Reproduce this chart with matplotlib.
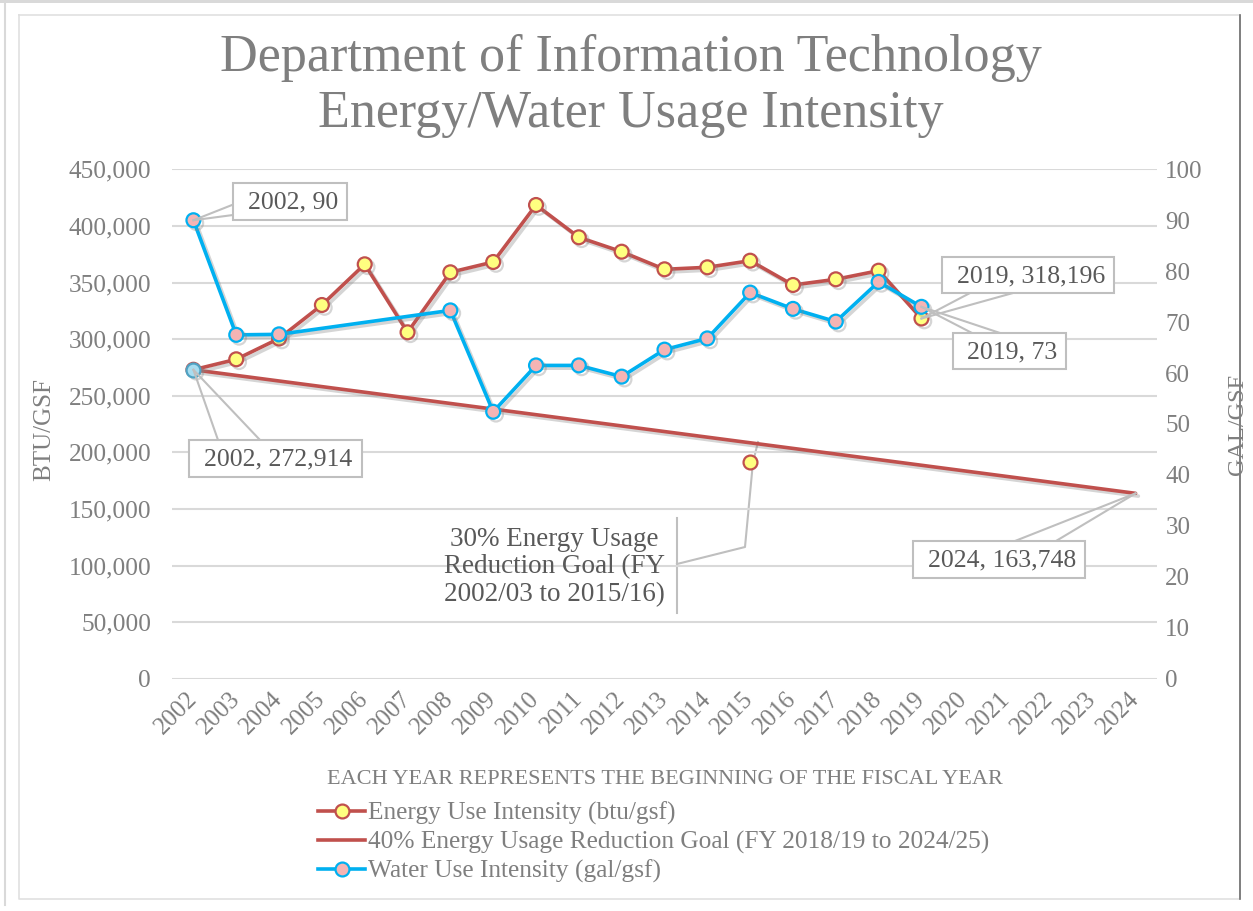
import numpy as np
import matplotlib
matplotlib.use("Agg")
import matplotlib.pyplot as plt
import matplotlib.patheffects as pe
from matplotlib.lines import Line2D
from matplotlib.patches import Rectangle
from matplotlib.ticker import FuncFormatter

# ---------------- data ----------------
years = [str(y) for y in range(2002, 2025)]

energy_years = [str(y) for y in range(2002, 2020)]
energy_values = [272914, 282160, 300530, 330130, 366080, 306010, 359010, 368110,
                 418470, 389930, 377210, 361660, 363430, 369260, 347800, 352830,
                 360430, 318196]

goal40_years = ["2002", "2024"]
goal40_values = [272914, 163748]

goal30_years = ["2015"]
goal30_values = [191040]

water_years = ["2002", "2003", "2004", "2008", "2009", "2010", "2011", "2012",
               "2013", "2014", "2015", "2016", "2017", "2018", "2019"]
water_values = [90, 67.5, 67.6, 72.3, 52.4, 61.5, 61.5, 59.3, 64.6, 66.8, 75.8,
                72.6, 70.1, 77.9, 73]

left_ticks = list(range(0, 450001, 50000))
right_ticks = list(range(0, 101, 10))

title_text = "Department of Information Technology\nEnergy/Water Usage Intensity"
xlabel_text = "EACH YEAR REPRESENTS THE BEGINNING OF THE FISCAL YEAR"
legend_labels = ["Energy Use Intensity (btu/gsf)",
                 "40% Energy Usage Reduction Goal (FY 2018/19 to 2024/25)",
                 "Water Use Intensity (gal/gsf)"]

# ---------------- style ----------------
FONT = "Liberation Serif"
plt.rcParams["font.family"] = [FONT, "DejaVu Serif"]
RED = "#C0504D"
YEL = "#FFFF80"
BLUE = "#00B0F0"
PINK = "#F4B4B4"
GRID = "#D9D9D9"
TXT = "#7F7F7F"
DTXT = "#595959"

W, H = 1253, 911
fig = plt.figure(figsize=(W / 100, H / 100), dpi=100)
fig.patch.set_facecolor("white")


def fx(x):
    return x / W


def fy(y):
    return 1 - y / H


# frame
fig.patches.append(Rectangle((0, fy(3)), 1, 3 / H, transform=fig.transFigure,
                             facecolor="#D9D9D9", edgecolor="none"))
fig.add_artist(Line2D([fx(5), fx(5)], [fy(0), fy(905)], transform=fig.transFigure,
                      color="#D9D9D9", lw=1.5))
fig.add_artist(Line2D([fx(19), fx(1240), fx(1240), fx(19), fx(19)],
                      [fy(15), fy(15), fy(899), fy(899), fy(15)],
                      transform=fig.transFigure, color="#E0E0E0", lw=1.2))
fig.add_artist(Line2D([fx(1240), fx(1240)], [fy(15), fy(899)],
                      transform=fig.transFigure, color="#6E6E6E", lw=1.2))

ax_l, ax_r, ax_t, ax_b = 172, 1157, 169.3, 678.7
ax = fig.add_axes([fx(ax_l), fy(ax_b), (ax_r - ax_l) / W, (ax_b - ax_t) / H])
ax2 = ax.twinx()

xpos = {y: i for i, y in enumerate(years)}

ax.set_xlim(-0.5, len(years) - 0.5)
ax.set_ylim(0, 450000)
ax2.set_ylim(0, 100)
ax.set_xticks(range(len(years)))
ax.set_xticklabels(years)
ax.set_yticks(left_ticks)
ax.yaxis.set_major_formatter(FuncFormatter(lambda v, p: f"{int(v):,}"))
ax2.set_yticks(right_ticks)

for a in (ax, ax2):
    for s in a.spines.values():
        s.set_visible(False)
    a.patch.set_visible(False)
ax.grid(axis="y", color=GRID, lw=1.5)
ax.set_axisbelow(True)
ax.tick_params(axis="y", length=0, pad=15, labelsize=18.3, labelcolor=TXT)
ax.tick_params(axis="x", length=0, pad=12, labelsize=17.8, labelcolor=TXT)
ax2.tick_params(axis="y", length=0, pad=6, labelsize=18, labelcolor=TXT)
for lab in ax.get_xticklabels():
    lab.set_rotation(45)
    lab.set_ha("right")
    lab.set_va("center")
    lab.set_rotation_mode("anchor")

shadow = [pe.SimpleLineShadow(offset=(2, -2), shadow_color="#888888", alpha=0.35), pe.Normal()]

# goal line 40%
ax.plot([xpos[y] for y in goal40_years], goal40_values, color=RED, lw=2.6,
        path_effects=shadow, zorder=2, solid_capstyle="round")
# energy
ax.plot([xpos[y] for y in energy_years], energy_values, color=RED, lw=2.6,
        marker="o", ms=10, mfc=YEL, mec=RED, mew=1.6, path_effects=shadow, zorder=3)
# 30% goal single point
ax.plot([xpos[y] for y in goal30_years], goal30_values, ls="none", marker="o", ms=10,
        mfc=YEL, mec=RED, mew=1.6, zorder=3)
# water
ax2.plot([xpos[y] for y in water_years], water_values, color=BLUE, lw=2.6,
         marker="o", ms=10, mfc=PINK, mec=BLUE, mew=1.6, path_effects=shadow, zorder=4)
# highlighted first energy point
ax2.plot([xpos[energy_years[0]]], [energy_values[0] / 4500.0], ls="none", marker="o",
         ms=10, mfc="#A8DDF0", mec="#4FA3C4", mew=1.6, zorder=5)

fig.canvas.draw()


def data_to_fig(a, x, y):
    d = a.transData.transform((x, y))
    return fig.transFigure.inverted().transform(d)


def callout(a, x, y, text, box, p1, p2):
    # box = (x0, y0, x1, y1) in pixels from top-left
    px, py = data_to_fig(a, x, y)
    for q in (p1, p2):
        fig.add_artist(Line2D([px, fx(q[0])], [py, fy(q[1])], transform=fig.transFigure,
                              color="#BFBFBF", lw=1.5, zorder=6))
    x0, y0, x1, y1 = box
    fig.patches.append(Rectangle((fx(x0), fy(y1)), (x1 - x0) / W, (y1 - y0) / H,
                                 transform=fig.transFigure, facecolor="white",
                                 edgecolor="#BFBFBF", lw=1.5, zorder=7))
    fig.text(fx((x0 + x1) / 2 + 3), fy((y0 + y1) / 2 + 1), text, ha="center", va="center",
             fontsize=18.5, color=DTXT, zorder=8)


callout(ax2, xpos["2002"], water_values[0], f"2002, {water_values[0]:g}",
        (233, 183, 347, 220), (232, 205), (233, 215))
callout(ax, xpos["2002"], energy_values[0], f"2002, {energy_values[0]:,}",
        (189, 440, 362, 477), (218, 440), (260, 440))
callout(ax, xpos["2019"], energy_values[-1], f"2019, {energy_values[-1]:,}",
        (942, 257, 1114, 293), (970, 293), (1013, 293))
callout(ax2, xpos["2019"], water_values[-1], f"2019, {water_values[-1]:g}",
        (953, 333, 1066, 369), (972, 333), (1000, 333))
callout(ax, xpos["2024"], goal40_values[-1], f"2024, {goal40_values[-1]:,}",
        (913, 541, 1085, 578), (1015, 541), (1056, 541))

# 30% label with bracket leader (behind the plotted marks)
fig.add_artist(Line2D([fx(677), fx(677)], [fy(518), fy(613)], transform=fig.transFigure,
                      color="#BFBFBF", lw=1.5, zorder=-1))
fig.add_artist(Line2D([fx(677), fx(745), fx(753), fx(758)],
                      [fy(564), fy(547), fy(462), fy(442)],
                      transform=fig.transFigure, color="#BFBFBF", lw=1.5, zorder=-1))
fig.text(fx(554), fy(567), "30% Energy Usage\nReduction Goal (FY\n2002/03 to 2015/16)",
         ha="center", va="center", fontsize=19.5, color=DTXT, linespacing=1.13)

# titles
fig.text(fx(631), fy(86), title_text, ha="center", va="center", fontsize=37.5,
         color=TXT, linespacing=1.2)
fig.text(fx(44), fy(429), "BTU/GSF", rotation=90, ha="center", va="center",
         fontsize=18, color=TXT)
fig.text(fx(1238), fy(424), "GAL/GSF", rotation=90, ha="center", va="center",
         fontsize=17.5, color=TXT)
fig.text(fx(665), fy(779), xlabel_text, ha="center", va="center", fontsize=16,
         color=TXT)

# legend
handles = [Line2D([], [], color=RED, lw=2.6, marker="o", ms=10, mfc=YEL, mec=RED, mew=1.6),
           Line2D([], [], color=RED, lw=2.6),
           Line2D([], [], color=BLUE, lw=2.6, marker="o", ms=10, mfc=PINK, mec=BLUE, mew=1.6)]
fig.legend(handles, legend_labels, loc="upper left", bbox_to_anchor=(fx(318), fy(802)),
           frameon=False, fontsize=18.3, labelcolor=TXT, handlelength=1.85,
           handletextpad=0.1, labelspacing=0.22, borderpad=0, borderaxespad=0,
           numpoints=1)

fig.savefig("out.png", dpi=100, facecolor="white")
